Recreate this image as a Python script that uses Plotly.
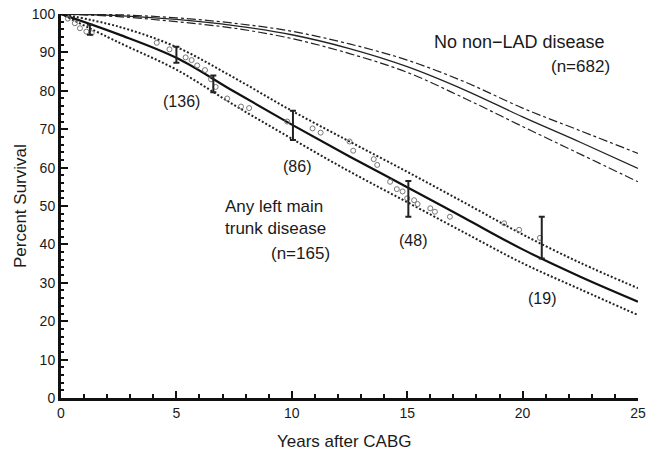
import plotly.graph_objects as go

# ---- data ----
years = [0, 2.5, 5, 7.5, 10, 12.5, 15, 17.5, 20, 22.5, 25]

# No non-LAD disease (n=682): fitted curve and confidence limits
lad_mid = [100, 99.6, 98.6, 97.0, 94.6, 91.0, 86.3, 80.2, 73.2, 66.6, 59.8]
lad_hi = [100, 99.8, 99.0, 97.6, 95.5, 92.2, 88.0, 82.3, 75.5, 69.6, 63.7]
lad_lo = [100, 99.3, 98.0, 96.3, 93.6, 89.7, 84.8, 78.0, 70.7, 63.5, 56.3]

# Any left main trunk disease (n=165): fitted curve and confidence limits
lm_mid = [100, 94.7, 88.6, 79.8, 71.2, 62.9, 54.9, 46.8, 38.7, 31.6, 25.1]
lm_hi = [100, 96.7, 91.4, 83.4, 74.8, 66.8, 58.9, 50.8, 42.6, 35.2, 28.6]
lm_lo = [100, 92.6, 85.5, 76.3, 67.5, 59.0, 51.0, 43.0, 35.1, 28.3, 21.6]

# observed (actuarial) points
obs_years = [0.3, 0.6, 0.82, 1.1, 1.33, 4.15, 4.7, 5.4, 5.66, 5.9, 6.24, 6.5, 6.7,
             7.2, 7.8, 8.15, 9.8, 10.9, 11.25, 12.5, 12.66, 13.55, 13.7, 14.26,
             14.55, 14.8, 15.0, 15.3, 15.45, 16.0, 16.2, 16.85, 19.2, 19.85, 20.75]
obs_pct = [98.8, 97.6, 96.3, 95.4, 95.0, 92.5, 90.8, 88.7, 88.0, 86.6, 85.4, 83.0, 81.0,
           78.0, 75.9, 75.5, 72.0, 70.2, 69.1, 66.8, 64.4, 62.2, 60.7, 56.3,
           54.4, 53.8, 52.0, 51.5, 50.5, 49.4, 48.5, 47.2, 45.5, 43.8, 41.7]

# error bars (confidence limits of observed estimates)
bar_years = [1.25, 5.0, 6.6, 10.05, 15.05, 20.83]
bar_hi = [97.2, 91.5, 84.0, 74.8, 56.5, 47.2]
bar_lo = [94.6, 87.3, 79.6, 67.2, 47.2, 36.3]

# numbers at risk
risk_labels = ["(136)", "(86)", "(48)", "(19)"]
risk_x = [5.2, 10.23, 15.25, 20.84]
risk_y = [77.3, 60.2, 40.9, 26.0]

x_ticks = [0, 5, 10, 15, 20, 25]
y_ticks = [0, 10, 20, 30, 40, 50, 60, 70, 80, 90, 100]

FONT = "Liberation Sans, Arial, Helvetica, sans-serif"
TXT = "#1a1a1a"

fig = go.Figure()

# LAD group
fig.add_trace(go.Scatter(x=years, y=lad_hi, mode="lines", line=dict(color="#222", width=1.2, dash="dashdot", shape="spline"), showlegend=False))
fig.add_trace(go.Scatter(x=years, y=lad_lo, mode="lines", line=dict(color="#222", width=1.2, dash="dashdot", shape="spline"), showlegend=False))
fig.add_trace(go.Scatter(x=years, y=lad_mid, mode="lines", line=dict(color="#222", width=1.3, shape="spline"), showlegend=False))

# left main group
fig.add_trace(go.Scatter(x=years, y=lm_hi, mode="lines", line=dict(color="#222", width=2, dash="2px,2px", shape="spline"), showlegend=False))
fig.add_trace(go.Scatter(x=years, y=lm_lo, mode="lines", line=dict(color="#222", width=2, dash="2px,2px", shape="spline"), showlegend=False))
fig.add_trace(go.Scatter(x=years, y=lm_mid, mode="lines", line=dict(color="#111", width=2.2, shape="spline"), showlegend=False))

# observed circles
fig.add_trace(go.Scatter(x=obs_years, y=obs_pct, mode="markers",
                         marker=dict(symbol="circle-open", size=5, color="#777", line=dict(width=1)),
                         showlegend=False))

# error bars
bar_mid = [(h + l) / 2 for h, l in zip(bar_hi, bar_lo)]
bar_half = [(h - l) / 2 for h, l in zip(bar_hi, bar_lo)]
fig.add_trace(go.Scatter(x=bar_years, y=bar_mid, mode="markers",
                         marker=dict(size=1, color="rgba(0,0,0,0)"),
                         error_y=dict(type="data", array=bar_half, symmetric=True,
                                      color="#222", thickness=2, width=3),
                         showlegend=False))

annotations = []
for t, x, y in zip(risk_labels, risk_x, risk_y):
    annotations.append(dict(x=x, y=y, text=t, showarrow=False, xanchor="center", yanchor="middle",
                            font=dict(size=16, color=TXT, family=FONT)))

annotations += [
    dict(x=16.07, y=92.7, text="No non\u2212LAD disease", showarrow=False, xanchor="left", yanchor="middle",
         font=dict(size=18, color=TXT, family=FONT)),
    dict(x=23.87, y=86.2, text="(n=682)", showarrow=False, xanchor="right", yanchor="middle",
         font=dict(size=17, color=TXT, family=FONT)),
    dict(x=7.02, y=46.9, text="Any left main<br>trunk disease", showarrow=False, xanchor="left",
         yanchor="middle", align="left",
         font=dict(size=17, color=TXT, family=FONT)),
    dict(x=11.74, y=37.6, text="(n=165)", showarrow=False, xanchor="right", yanchor="middle",
         font=dict(size=17, color=TXT, family=FONT)),
    # axis titles
    dict(xref="paper", yref="paper", x=0.492, y=0, yshift=-43, text="Years after CABG",
         showarrow=False, xanchor="center", yanchor="middle",
         font=dict(size=17, color=TXT, family=FONT)),
    dict(xref="paper", yref="paper", x=0, y=0.5, xshift=-41, text="Percent Survival",
         textangle=-90, showarrow=False, xanchor="center", yanchor="middle",
         font=dict(size=17, color=TXT, family=FONT)),
]

fig.update_layout(
    width=661, height=452,
    margin=dict(l=61, r=23, t=14, b=54),
    plot_bgcolor="white", paper_bgcolor="white",
    font=dict(family=FONT, color=TXT),
    annotations=annotations,
    xaxis=dict(range=[0, 25], tickvals=x_ticks, ticktext=[str(v) for v in x_ticks],
               ticks="inside", ticklen=7, tickwidth=2, tickcolor="#111",
               minor=dict(dtick=1, ticks="inside", ticklen=4, tickwidth=2, tickcolor="#111"),
               showline=True, linecolor="#111", linewidth=3, showgrid=False, zeroline=False,
               ticklabeloverflow="allow",
               tickfont=dict(size=14, color=TXT, family=FONT), automargin=False),
    yaxis=dict(range=[0, 100], tickvals=y_ticks, ticktext=[str(v) for v in y_ticks],
               ticks="inside", ticklen=7, tickwidth=2, tickcolor="#111",
               minor=dict(dtick=2, ticks="inside", ticklen=3, tickwidth=2, tickcolor="#111"),
               showline=True, linecolor="#111", linewidth=3, showgrid=False, zeroline=False,
               ticklabeloverflow="allow",
               tickfont=dict(size=14, color=TXT, family=FONT), automargin=False),
)

# remove the browser's default 8px page margin so the figure fills the window exactly
fig.write_html("out.html", config={"displayModeBar": False},
               post_script="document.body.style.margin='0';")
